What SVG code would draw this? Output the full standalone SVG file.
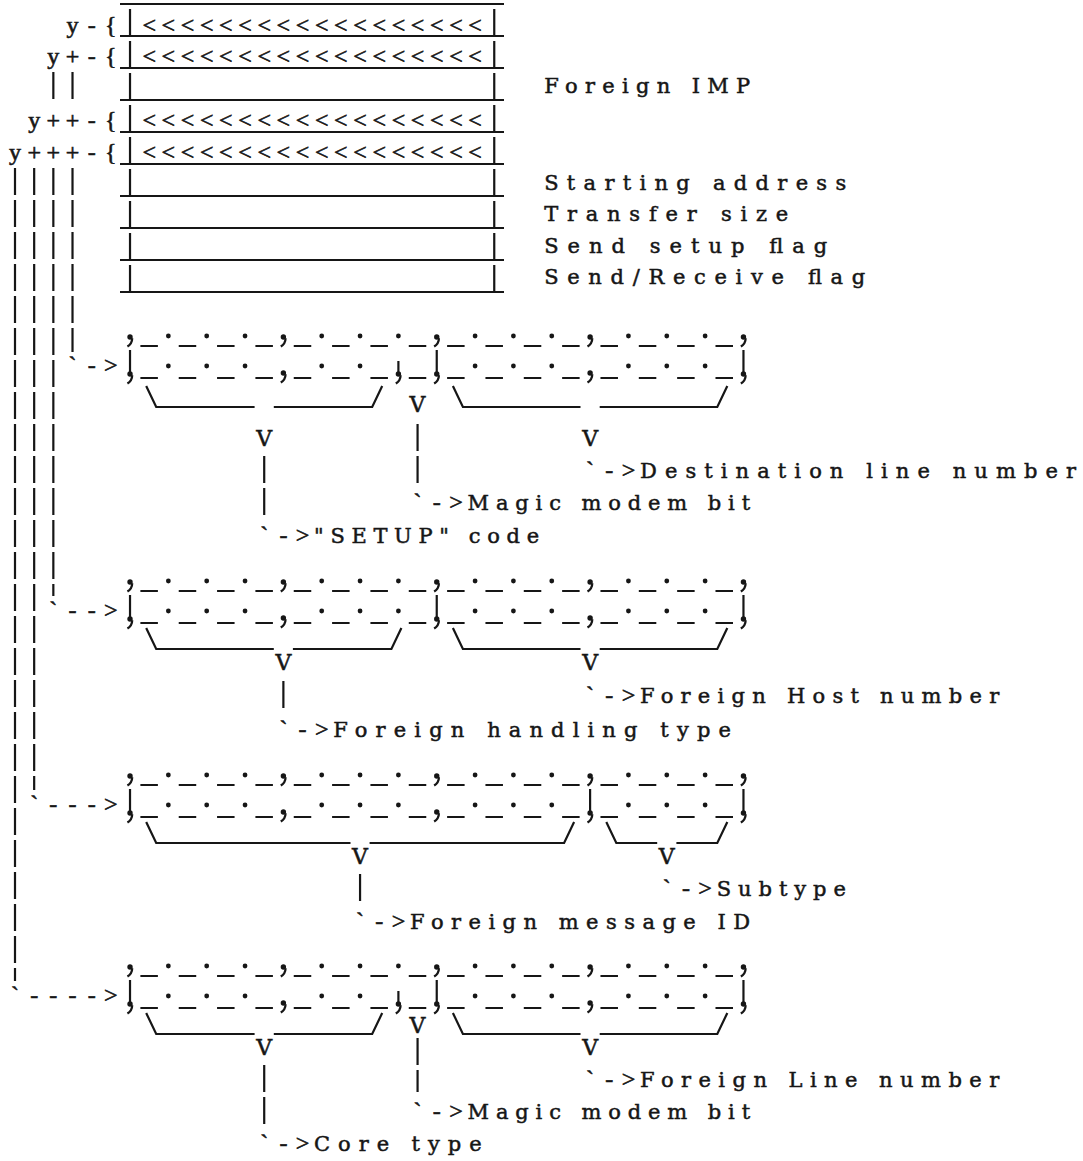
<svg xmlns="http://www.w3.org/2000/svg" xmlns:xlink="http://www.w3.org/1999/xlink" width="1083" height="1161" viewBox="0 0 1083 1161">
<style>
.t{font-family:"DejaVu Serif","Liberation Serif",serif;font-size:21px;fill:#161616;stroke:#161616;stroke-width:0.5px}
.v{font-family:"DejaVu Serif","Liberation Serif",serif;font-size:22px;fill:#161616;stroke:#161616;stroke-width:0.5px;text-anchor:middle}
.s{font-family:"Liberation Serif","Times New Roman",serif;font-size:24px;fill:#161616;stroke:#161616;stroke-width:0.6px;text-anchor:middle}
.ln{stroke:#161616;stroke-width:2.2;fill:none}
.pipe{stroke:#161616;stroke-width:2.2;stroke-dasharray:27 5;fill:none}
.us{stroke:#161616;stroke-width:2.2;stroke-dasharray:17.5 20.84;fill:none}
.dk{fill:#161616}
</style>
<defs>
<g id="cm"><circle r="2.7" class="dk"/><path d="M2.2,1.2 Q2.2,6.5 -2.6,9.5" class="ln" stroke-width="2"/></g>
<circle id="dt" r="2.4" class="dk"/>
<g id="bd"><line x1="0" y1="-28" x2="0" y2="-5" class="ln"/><use xlink:href="#cm" y="-4"/></g>
<g id="bds"><line x1="0" y1="-17" x2="0" y2="-5" class="ln"/><use xlink:href="#cm" y="-4"/></g>
<g id="rtop">
<line x1="10.37" y1="0" x2="603" y2="0" class="us"/>
<use xlink:href="#cm" x="0" y="-9"/><use xlink:href="#dt" x="38.34" y="-10"/><use xlink:href="#dt" x="76.68" y="-10"/><use xlink:href="#dt" x="115.02" y="-10"/>
<use xlink:href="#cm" x="153.36" y="-9"/><use xlink:href="#dt" x="191.7" y="-10"/><use xlink:href="#dt" x="230.04" y="-10"/><use xlink:href="#dt" x="268.38" y="-10"/>
<use xlink:href="#cm" x="306.72" y="-9"/><use xlink:href="#dt" x="345.06" y="-10"/><use xlink:href="#dt" x="383.4" y="-10"/><use xlink:href="#dt" x="421.74" y="-10"/>
<use xlink:href="#cm" x="460.08" y="-9"/><use xlink:href="#dt" x="498.42" y="-10"/><use xlink:href="#dt" x="536.76" y="-10"/><use xlink:href="#dt" x="575.1" y="-10"/>
<use xlink:href="#cm" x="613.44" y="-9"/>
</g>
<g id="rbot">
<line x1="10.37" y1="0" x2="603" y2="0" class="us"/>
<use xlink:href="#bd" x="0"/>
<use xlink:href="#dt" x="38.34" y="-12"/><use xlink:href="#dt" x="76.68" y="-12"/><use xlink:href="#dt" x="115.02" y="-12"/>
<use xlink:href="#cm" x="153.36" y="-5"/>
<use xlink:href="#dt" x="191.7" y="-12"/><use xlink:href="#dt" x="230.04" y="-12"/>
<use xlink:href="#dt" x="345.06" y="-12"/><use xlink:href="#dt" x="383.4" y="-12"/><use xlink:href="#dt" x="421.74" y="-12"/>
<use xlink:href="#dt" x="498.42" y="-12"/><use xlink:href="#dt" x="536.76" y="-12"/><use xlink:href="#dt" x="575.1" y="-12"/>
<use xlink:href="#bd" x="613.44"/>
</g>
</defs>
<rect width="1083" height="1161" fill="#ffffff"/>

<g id="imp-table">
<path class="ln" d="M120,4H504M120,36H504M120,68H504M120,100H504M120,132H504M120,164H504M120,196H504M120,228H504M120,260H504M120,292H504"/>
<line x1="130.02" y1="9" x2="130.02" y2="292" class="pipe"/>
<line x1="494.25" y1="9" x2="494.25" y2="292" class="pipe"/>
<text class="s" x="149.19 168.36 187.53 206.7 225.87 245.04 264.21 283.38 302.55 321.72 340.89 360.06 379.23 398.4 417.57 436.74 455.91 475.08" y="33">&lt;&lt;&lt;&lt;&lt;&lt;&lt;&lt;&lt;&lt;&lt;&lt;&lt;&lt;&lt;&lt;&lt;&lt;</text>
<text class="s" x="149.19 168.36 187.53 206.7 225.87 245.04 264.21 283.38 302.55 321.72 340.89 360.06 379.23 398.4 417.57 436.74 455.91 475.08" y="64">&lt;&lt;&lt;&lt;&lt;&lt;&lt;&lt;&lt;&lt;&lt;&lt;&lt;&lt;&lt;&lt;&lt;&lt;</text>
<text class="s" x="149.19 168.36 187.53 206.7 225.87 245.04 264.21 283.38 302.55 321.72 340.89 360.06 379.23 398.4 417.57 436.74 455.91 475.08" y="128">&lt;&lt;&lt;&lt;&lt;&lt;&lt;&lt;&lt;&lt;&lt;&lt;&lt;&lt;&lt;&lt;&lt;&lt;</text>
<text class="s" x="149.19 168.36 187.53 206.7 225.87 245.04 264.21 283.38 302.55 321.72 340.89 360.06 379.23 398.4 417.57 436.74 455.91 475.08" y="160">&lt;&lt;&lt;&lt;&lt;&lt;&lt;&lt;&lt;&lt;&lt;&lt;&lt;&lt;&lt;&lt;&lt;&lt;</text>
</g>

<g id="pointer-labels">
<text class="s" x="72.51 91.68 110.85" y="33">y-{</text>
<text class="s" x="53.34 72.51 91.68 110.85" y="64">y+-{</text>
<text class="s" x="34.17 53.34 72.51 91.68 110.85" y="128">y++-{</text>
<text class="s" x="15 34.17 53.34 72.51 91.68 110.85" y="160">y+++-{</text>
</g>

<g id="field-labels">
<text class="t" x="544.2" y="93" textLength="206" lengthAdjust="spacing">Foreign IMP</text>
<text class="t" x="544.2" y="190" textLength="302" lengthAdjust="spacing">Starting address</text>
<text class="t" x="544.2" y="221" textLength="244" lengthAdjust="spacing">Transfer size</text>
<text class="t" x="544.2" y="253" textLength="283" lengthAdjust="spacing">Send setup flag</text>
<text class="t" x="544.2" y="284" textLength="321" lengthAdjust="spacing">Send/Receive flag</text>
</g>

<g id="ruler-1">
<use xlink:href="#rtop" x="130.02" y="346"/>
<use xlink:href="#rbot" x="130.02" y="378"/>
<use xlink:href="#bds" x="398.4" y="378"/>
<use xlink:href="#bd" x="436.74" y="378"/>
<use xlink:href="#cm" x="590.1" y="373"/>
<path class="ln" d="M146.2,386L156.2,407H254.6M273.8,407H372.2L382.2,386M452.9,386L462.9,407H580.5M599.7,407H717.3L727.3,386"/>
</g>

<g id="ruler-2">
<use xlink:href="#rtop" x="130.02" y="591"/>
<use xlink:href="#rbot" x="130.02" y="623"/>
<use xlink:href="#dt" x="398.4" y="611"/>
<use xlink:href="#bd" x="436.74" y="623"/>
<use xlink:href="#cm" x="590.1" y="618"/>
<path class="ln" d="M146.2,628L156.2,649H273.8M292.9,649H391.4L401.4,628M452.9,628L462.9,649H580.5M599.7,649H717.3L727.3,628"/>
</g>

<g id="ruler-3">
<use xlink:href="#rtop" x="130.02" y="785"/>
<use xlink:href="#rbot" x="130.02" y="817"/>
<use xlink:href="#dt" x="398.4" y="805"/>
<use xlink:href="#cm" x="436.74" y="812"/>
<use xlink:href="#bd" x="590.1" y="817"/>
<path class="ln" d="M146.2,822L156.2,843H350.5M369.6,843H564.1L574.1,822M606.3,822L616.3,843H657.2M676.4,843H717.3L727.3,822"/>
</g>

<g id="ruler-4">
<use xlink:href="#rtop" x="130.02" y="976"/>
<use xlink:href="#rbot" x="130.02" y="1008"/>
<use xlink:href="#bds" x="398.4" y="1008"/>
<use xlink:href="#bd" x="436.74" y="1008"/>
<use xlink:href="#cm" x="590.1" y="1003"/>
<path class="ln" d="M146.2,1013L156.2,1034H254.6M273.8,1034H372.2L382.2,1013M452.9,1013L462.9,1034H580.5M599.7,1034H717.3L727.3,1013"/>
</g>

<g id="connectors">
<line x1="53.34" y1="72" x2="53.34" y2="99" class="pipe"/>
<line x1="72.51" y1="72" x2="72.51" y2="99" class="pipe"/>
<line x1="72.51" y1="168" x2="72.51" y2="352" class="pipe"/>
<line x1="53.34" y1="168" x2="53.34" y2="596" class="pipe"/>
<line x1="34.17" y1="168" x2="34.17" y2="790" class="pipe"/>
<line x1="15" y1="168" x2="15" y2="981" class="pipe"/>
<text class="s" x="72.51 91.68 110.85" y="373">`-&gt;</text>
<text class="s" x="53.34 72.51 91.68 110.85" y="618">`--&gt;</text>
<text class="s" x="34.17 53.34 72.51 91.68 110.85" y="812">`---&gt;</text>
<text class="s" x="15 34.17 53.34 72.51 91.68 110.85" y="1003">`----&gt;</text>

<text class="v" x="417.57" y="412">V</text>
<text class="v" x="264.21" y="446">V</text>
<text class="v" x="590.1" y="446">V</text>
<line x1="417.57" y1="424" x2="417.57" y2="483" class="pipe"/>
<line x1="264.21" y1="456" x2="264.21" y2="515" class="pipe"/>

<text class="v" x="283.38" y="670">V</text>
<text class="v" x="590.1" y="670">V</text>
<line x1="283.38" y1="681" x2="283.38" y2="708" class="pipe"/>

<text class="v" x="360.06" y="864">V</text>
<text class="v" x="666.78" y="864">V</text>
<line x1="360.06" y1="874" x2="360.06" y2="901" class="pipe"/>

<text class="v" x="417.57" y="1033">V</text>
<text class="v" x="264.21" y="1055">V</text>
<text class="v" x="590.1" y="1055">V</text>
<line x1="417.57" y1="1038" x2="417.57" y2="1092" class="pipe"/>
<line x1="264.21" y1="1065" x2="264.21" y2="1124" class="pipe"/>

<text class="s" x="590.1 609.27 628.44" y="478">`-&gt;</text>
<text class="s" x="417.57 436.74 455.91" y="510">`-&gt;</text>
<text class="s" x="264.21 283.38 302.55" y="543">`-&gt;</text>
<text class="s" x="590.1 609.27 628.44" y="703">`-&gt;</text>
<text class="s" x="283.38 302.55 321.72" y="737">`-&gt;</text>
<text class="s" x="666.78 685.95 705.12" y="896">`-&gt;</text>
<text class="s" x="360.06 379.23 398.4" y="929">`-&gt;</text>
<text class="s" x="590.1 609.27 628.44" y="1087">`-&gt;</text>
<text class="s" x="417.57 436.74 455.91" y="1119">`-&gt;</text>
<text class="s" x="264.21 283.38 302.55" y="1151">`-&gt;</text>
</g>

<g id="result-labels">
<text class="t" x="640" y="478" textLength="436" lengthAdjust="spacing">Destination line number</text>
<text class="t" x="467.5" y="510" textLength="282.6" lengthAdjust="spacing">Magic modem bit</text>
<text class="t" x="314.1" y="543" textLength="225" lengthAdjust="spacing">"SETUP" code</text>
<text class="t" x="640" y="703" textLength="359.2" lengthAdjust="spacing">Foreign Host number</text>
<text class="t" x="333.3" y="737" textLength="397.6" lengthAdjust="spacing">Foreign handling type</text>
<text class="t" x="716.7" y="896" textLength="129.2" lengthAdjust="spacing">Subtype</text>
<text class="t" x="410" y="929" textLength="340" lengthAdjust="spacing">Foreign message ID</text>
<text class="t" x="640" y="1087" textLength="359.2" lengthAdjust="spacing">Foreign Line number</text>
<text class="t" x="467.5" y="1119" textLength="282.6" lengthAdjust="spacing">Magic modem bit</text>
<text class="t" x="314.1" y="1151" textLength="167.5" lengthAdjust="spacing">Core type</text>
</g>
</svg>
